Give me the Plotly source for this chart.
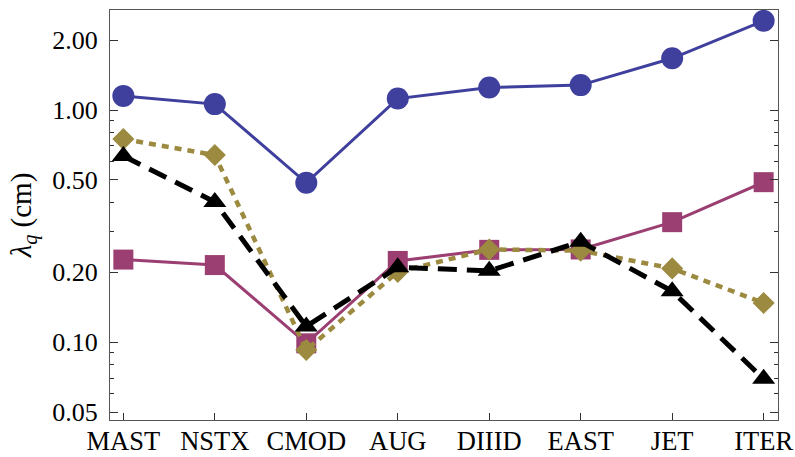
import plotly.graph_objects as go

# Devices along the x axis
devices = ["MAST", "NSTX", "CMOD", "AUG", "DIIID", "EAST", "JET", "ITER"]

# Heat-flux width lambda_q (cm) for each scaling
lam_circle = [1.15, 1.06, 0.486, 1.12, 1.25, 1.28, 1.67, 2.42]
lam_square = [0.227, 0.215, 0.099, 0.224, 0.250, 0.251, 0.329, 0.489]
lam_diamond = [0.750, 0.640, 0.0926, 0.201, 0.251, 0.248, 0.208, 0.1476]
lam_triangle = [0.634, 0.402, 0.117, 0.2105, 0.203, 0.271, 0.166, 0.0696]

# Axis ticks
ytick_vals = [0.05, 0.1, 0.2, 0.5, 1.0, 2.0]
ytick_text = ["0.05", "0.10", "0.20", "0.50", "1.00", "2.00"]
yminor_vals = [0.06, 0.07, 0.08, 0.09, 0.3, 0.4, 0.6, 0.7, 0.8, 0.9]

BLUE = "#3f3f9d"
MAGENTA = "#9b3f72"
OLIVE = "#9b8a3f"
BLACK = "#000000"

fig = go.Figure()

fig.add_trace(go.Scatter(
    x=devices, y=lam_circle, mode="lines+markers",
    line=dict(color=BLUE, width=3),
    marker=dict(symbol="circle", size=22, color=BLUE),
))
fig.add_trace(go.Scatter(
    x=devices, y=lam_square, mode="lines+markers",
    line=dict(color=MAGENTA, width=3),
    marker=dict(symbol="square", size=20, color=MAGENTA),
))
fig.add_trace(go.Scatter(
    x=devices, y=lam_diamond, mode="lines+markers",
    line=dict(color=OLIVE, width=4.5, dash="7px,6px"),
    marker=dict(symbol="diamond", size=17, color=OLIVE),
))
fig.add_trace(go.Scatter(
    x=devices, y=lam_triangle, mode="lines+markers",
    line=dict(color=BLACK, width=5, dash="19px,10px"),
    marker=dict(symbol="triangle-up", size=20, color=BLACK),
))

FONT = "Liberation Serif"

fig.update_layout(
    width=795, height=457,
    margin=dict(l=110, r=17, t=10, b=37),
    paper_bgcolor="white", plot_bgcolor="white",
    showlegend=False,
    font=dict(family=FONT, size=26, color="black"),
)

fig.update_xaxes(
    range=[-0.146, 7.157], automargin=False,
    showgrid=False, zeroline=False,
    showline=True, linecolor="#555555", linewidth=1.2, mirror=True,
    ticks="inside", ticklen=7, tickcolor="#333333", tickwidth=1,
    tickfont=dict(family=FONT, size=26.5, color="black"),
    ticklabelstandoff=-3,
)

fig.update_yaxes(
    type="log", automargin=False,
    range=[-1.3345, 0.4305],
    showgrid=False, zeroline=False,
    showline=True, linecolor="#555555", linewidth=1.2, mirror="ticks",
    tickmode="array", tickvals=ytick_vals, ticktext=ytick_text,
    ticks="inside", ticklen=8, tickcolor="#333333", tickwidth=1,
    minor=dict(tickmode="array", tickvals=yminor_vals, ticks="inside",
               ticklen=4, tickcolor="#333333", tickwidth=1, showgrid=False),
    tickfont=dict(family=FONT, size=26, color="black"),
    ticklabelstandoff=6,
    title=dict(text="<i>λ<sub>q</sub></i> (cm)",
               font=dict(family=FONT, size=29, color="black"), standoff=12),
)

fig.write_html("out.html")
